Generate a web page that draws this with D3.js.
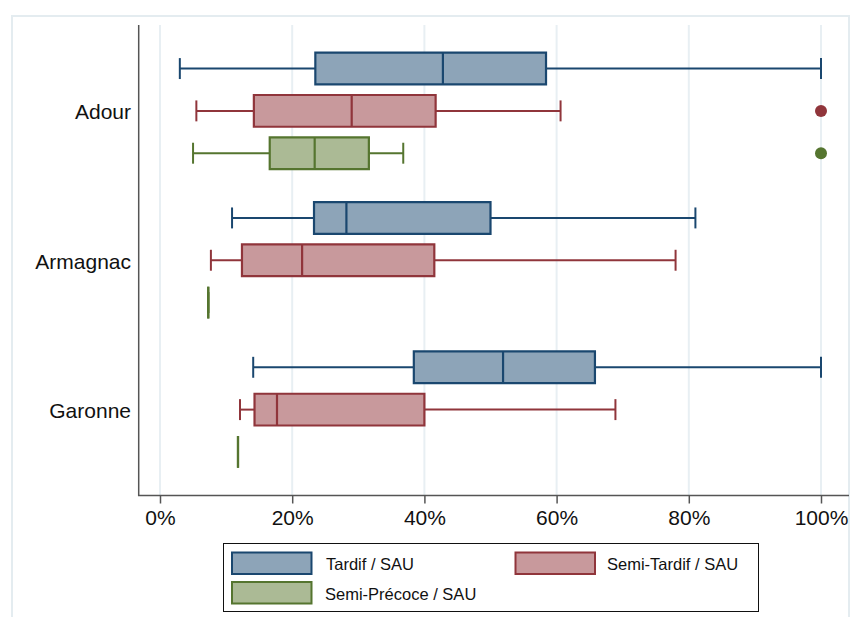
<!DOCTYPE html>
<html>
<head>
<meta charset="utf-8">
<script src="https://cdn.jsdelivr.net/npm/d3@7"></script>
<style>
  html, body { margin: 0; padding: 0; background: #ffffff; }
  svg { display: block; font-family: "Liberation Sans", Arial, sans-serif; }
</style>
</head>
<body>
<svg id="chart" width="850" height="617"></svg>
<script>
// Regions shown on the vertical axis
const regions = ["Adour", "Armagnac", "Garonne"];

// Variety groups (share of the farm's agricultural area)
const seriesNames = ["Tardif / SAU", "Semi-Tardif / SAU", "Semi-Précoce / SAU"];

// Box statistics per region, in percent: [lower whisker, Q1, median, Q3, upper whisker]
const tardifStats = [
  [3.0, 23.5, 42.8, 58.4, 100],
  [10.9, 23.3, 28.2, 50.0, 81.0],
  [14.1, 38.4, 51.9, 65.8, 100]
];
const semiTardifStats = [
  [5.5, 14.2, 29.0, 41.7, 60.6],
  [7.7, 12.4, 21.5, 41.5, 78.0],
  [12.1, 14.3, 17.7, 40.0, 68.9]
];
const semiPrecoceStats = [
  [5.0, 16.6, 23.4, 31.6, 36.8],
  [7.3, 7.3, 7.3, 7.3, 7.3],
  [11.8, 11.8, 11.8, 11.8, 11.8]
];

// Outside values: [region, series index, percent]
const outliers = [
  ["Adour", 1, 100],
  ["Adour", 2, 100]
];

const xTicks = [0, 20, 40, 60, 80, 100];

const strokeColors = ["#1a476f", "#90353b", "#55752f"];
const fillColors = ["#8da4b8", "#c8999c", "#abba95"];

const statsBySeries = [tardifStats, semiTardifStats, semiPrecoceStats];

const svg = d3.select("#chart");

// Outer graph frame
svg.append("rect")
  .attr("x", 12).attr("y", 16)
  .attr("width", 837).attr("height", 620)
  .attr("fill", "#ffffff")
  .attr("stroke", "#e4ecf0")
  .attr("stroke-width", 2);

const plotTop = 25, plotBottom = 495.5, axisLeft = 138.7, axisRight = 849;

const x = d3.scaleLinear().domain([0, 100]).range([160, 821]);
const yOuter = d3.scaleBand().domain(regions).range([plotTop, plotBottom]).padding(0.15);
const yInner = d3.scaleBand().domain(seriesNames).range([0, yOuter.bandwidth()])
  .paddingInner(0.25).paddingOuter(0.125);

// Vertical grid lines
svg.append("g").selectAll("line").data(xTicks).join("line")
  .attr("x1", d => x(d)).attr("x2", d => x(d))
  .attr("y1", plotTop).attr("y2", plotBottom)
  .attr("stroke", "#e8eff3").attr("stroke-width", 2);

// Axes lines
svg.append("line")
  .attr("x1", axisLeft).attr("x2", axisLeft)
  .attr("y1", plotTop).attr("y2", plotBottom)
  .attr("stroke", "#555").attr("stroke-width", 1.5);
svg.append("line")
  .attr("x1", axisLeft - 0.75).attr("x2", axisRight)
  .attr("y1", plotBottom).attr("y2", plotBottom)
  .attr("stroke", "#555").attr("stroke-width", 1.5);

// X axis ticks and labels
const xAxis = d3.axisBottom(x).tickValues(xTicks).tickFormat(d => d + "%")
  .tickSize(8).tickSizeOuter(0).tickPadding(7);
const xg = svg.append("g").attr("transform", `translate(0,${plotBottom})`).call(xAxis);
xg.select(".domain").remove();
xg.selectAll(".tick line").attr("stroke", "#555").attr("stroke-width", 1.5);
xg.selectAll(".tick text")
  .attr("font-size", 21).attr("fill", "#111")
  .attr("font-family", "'Liberation Sans', Arial, sans-serif");

// Region labels
svg.append("g").selectAll("text").data(regions).join("text")
  .attr("x", 131)
  .attr("y", d => yOuter(d) + yOuter.bandwidth() / 2 + 1)
  .attr("text-anchor", "end")
  .attr("dominant-baseline", "central")
  .attr("font-size", 21)
  .attr("fill", "#111")
  .text(d => d);

// Boxes and whiskers
const boxes = [];
seriesNames.forEach((s, si) => {
  regions.forEach((r, ri) => {
    const st = statsBySeries[si][ri];
    boxes.push({ region: r, series: s, si, lo: st[0], q1: st[1], med: st[2], q3: st[3], hi: st[4] });
  });
});

const g = svg.append("g");
const boxH = yInner.bandwidth();
const capH = boxH * 0.66;

boxes.forEach(b => {
  const top = yOuter(b.region) + yInner(b.series);
  const cy = top + boxH / 2;
  const col = strokeColors[b.si];
  const bg = g.append("g");
  // whiskers
  bg.append("line").attr("x1", x(b.lo)).attr("x2", x(b.q1)).attr("y1", cy).attr("y2", cy)
    .attr("stroke", col).attr("stroke-width", 2);
  bg.append("line").attr("x1", x(b.q3)).attr("x2", x(b.hi)).attr("y1", cy).attr("y2", cy)
    .attr("stroke", col).attr("stroke-width", 2);
  // caps
  [b.lo, b.hi].forEach(v => {
    bg.append("line").attr("x1", x(v)).attr("x2", x(v))
      .attr("y1", cy - capH / 2).attr("y2", cy + capH / 2)
      .attr("stroke", col).attr("stroke-width", 2);
  });
  // box (path so a zero-width box still shows as a line)
  const p = d3.path();
  p.moveTo(x(b.q1), top); p.lineTo(x(b.q3), top); p.lineTo(x(b.q3), top + boxH);
  p.lineTo(x(b.q1), top + boxH); p.closePath();
  bg.append("path").attr("d", p.toString())
    .attr("fill", fillColors[b.si]).attr("stroke", col).attr("stroke-width", 2.2);
  // median
  bg.append("line").attr("x1", x(b.med)).attr("x2", x(b.med))
    .attr("y1", top).attr("y2", top + boxH)
    .attr("stroke", col).attr("stroke-width", 2.2);
});

// Outside values
g.selectAll("circle").data(outliers).join("circle")
  .attr("cx", d => x(d[2]))
  .attr("cy", d => yOuter(d[0]) + yInner(seriesNames[d[1]]) + boxH / 2)
  .attr("r", 6)
  .attr("fill", d => strokeColors[d[1]]);

// Legend
const legend = svg.append("g");
legend.append("rect")
  .attr("x", 223.5).attr("y", 543.5).attr("width", 535).attr("height", 68)
  .attr("fill", "#fff").attr("stroke", "#111").attr("stroke-width", 1);

const legendPos = [
  { x: 232, y: 552.5, tx: 326, ty: 570 },
  { x: 515.5, y: 552.5, tx: 607, ty: 570 },
  { x: 232, y: 582, tx: 325, ty: 599.5 }
];
seriesNames.forEach((s, i) => {
  const lp = legendPos[i];
  legend.append("rect")
    .attr("x", lp.x).attr("y", lp.y).attr("width", 79.5).attr("height", 21.5)
    .attr("fill", fillColors[i]).attr("stroke", strokeColors[i]).attr("stroke-width", 2);
  legend.append("text")
    .attr("x", lp.tx).attr("y", lp.ty)
    .attr("font-size", 16.5).attr("fill", "#111")
    .text(s);
});
</script>
</body>
</html>
